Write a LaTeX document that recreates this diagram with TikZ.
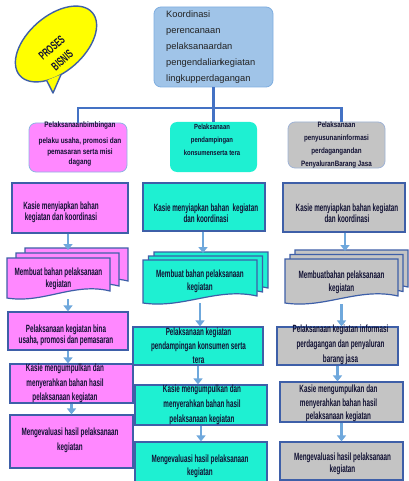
\documentclass[tikz,border=0pt]{standalone}
\usepackage{fontspec}
\usetikzlibrary{arrows.meta,calc}
\newfontfamily\condfont[FakeStretch=0.6]{Liberation Sans}
\newfontfamily\lvfont[FakeStretch=0.8]{Liberation Sans}
\newfontfamily\topfont{Liberation Sans}
\definecolor{pinkc}{HTML}{FF88FF}
\definecolor{cyanc}{HTML}{1EF0D2}
\definecolor{grayc}{HTML}{C4C4C4}
\definecolor{edgec}{HTML}{3E5FA8}
\definecolor{connc}{HTML}{4472C4}
\definecolor{arrowc}{HTML}{6FA8DC}
\definecolor{topfill}{HTML}{A0C4E8}
\definecolor{topedge}{HTML}{7FAEE0}
\definecolor{pinkedge}{HTML}{8EB4E3}
\definecolor{grayedge}{HTML}{9FB3D6}
\definecolor{yellowc}{HTML}{FFFF00}
\definecolor{inkc}{HTML}{111133}
\definecolor{topink}{HTML}{222222}
% one sheet of a stacked document: x0 y0 x1 y1 fill
\newcommand\docsheet[5]{%
  \pgfmathsetmacro\dw{#3-#1}%
  \filldraw[docline, fill=#5] (#1,#2) -- (#3,#2) -- (#3,#4-7)
    .. controls ({#3-0.35*\dw},{#4-16}) and ({#1+0.35*\dw},{#4+6}) .. (#1,#4) -- cycle;}
\begin{document}
\begin{tikzpicture}[x=1pt, y=-1pt,
  wh/.style 2 args={minimum width=#1, minimum height=#2},
  stepbox/.style={draw=edgec, line width=1.2pt, inner sep=0pt},
  pinkbox/.style={stepbox, fill=pinkc},
  cyanbox/.style={stepbox, fill=cyanc},
  graybox/.style={stepbox, fill=grayc},
  headbox/.style={rounded corners=7pt, inner sep=0pt, line width=0.8pt},
  txt/.style={font=\condfont\bfseries\fontsize{10.5}{#1}\selectfont, align=center, text=inkc, inner sep=0pt},
  txt/.default=12,
  lvtxt/.style 2 args={font=\lvfont\bfseries\fontsize{#1}{#2}\selectfont, align=center, text=inkc, inner sep=0pt},
  conn/.style={draw=connc, line width=2.8pt},
  arr/.style={draw=arrowc, line width=2.4pt, -{Triangle[width=9pt,length=6pt]}},
  docline/.style={draw=edgec, line width=1.2pt},
]
\fill[white] (0,0) rectangle (408,481);
\useasboundingbox (0,0) rectangle (408,481);

% speech bubble
\fill[yellowc] (46.7,80.5) -- (53,93) -- (61,74.6) -- cycle;
\filldraw[fill=yellowc, draw=edgec, line width=1.4pt, rotate around={41:(56,44)}] (56,44) ellipse [x radius=48, y radius=28];
\fill[yellowc] (46.7,80.5) -- (53,93) -- (61,74.6) -- cycle;
\draw[edgec, line width=1.4pt, line join=round] (46.7,80.5) -- (53,93) -- (61,74.6);
\node[rotate=41, font=\condfont\bfseries\fontsize{12}{16}\selectfont, align=center, text=inkc, inner sep=0pt] (pb) at (57,54) {PROSES\\BISNIS};

% head box
\node[headbox, draw=topedge, fill=topfill, wh={119}{80}] (top) at (213.5,47) {};
\node[anchor=west, align=left, font=\topfont\fontsize{9.3}{16}\selectfont, text=topink, inner sep=0pt] (toptxt) at (166,47) {Koordinasi\\perencanaan\\pelaksanaardan\\pengendalian\kern-2pt kegiatan\\lingkupperdagangan};

% second level
\node[headbox, draw=pinkedge, fill=pinkc, wh={98}{49}] (p2) at (78,147.5) {};
\node[lvtxt={8}{10.5}] (p2t) at (80,144) {Pelaksanaanbimbingan\\[6pt]pelaku usaha, promosi dan\\pemasaran serta misi\\dagang};
\node[headbox, draw=none, fill=cyanc, wh={87}{50}] (c2) at (213.5,147) {};
\node[lvtxt={7.4}{13}] (c2t) at (212,140) {Pelaksanaan\\pendampingan\\konsumenserta tera};
\node[headbox, draw=grayedge, fill=grayc, wh={97}{46}] (g2) at (336.5,145) {};
\node[lvtxt={7.8}{13.3}] (g2t) at (336.5,145) {Pelaksanaan\\penyusunaninformasi\\perdagangandan\\PenyaluranBarang Jasa};

% connectors from the head box
\coordinate (bus) at (213.5,108);
\draw[conn] (top.south) -- (c2.north);
\draw[conn] (p2.north) |- (bus) -| ($(g2.north)+(5,0)$);

% pink column
\node[pinkbox, wh={116}{50}] (p3) at (70,208) {};
\node[txt=11] (p3t) at (61,212) {Kasie menyiapkan bahan\\kegiatan dan koordinasi};
\docsheet{25}{248}{128}{288}{pinkc}
\docsheet{16}{253}{119}{293}{pinkc}
\docsheet{7}{258}{110}{298}{pinkc}
\node[txt=12.5, wh={103}{40}] (p4) at (58.5,279) {Membuat bahan pelaksanaan\\kegiatan};
\node[pinkbox, wh={120}{38}] (p5) at (68,331) {};
\node[txt=11] (p5t) at (66,335) {Pelaksanaan kegiatan bina\\usaha, promosi dan pemasaran};
\node[pinkbox, wh={123}{39}] (p6) at (71.5,383.5) {};
\node[txt=14.5] (p6t) at (65,383.5) {Kasie mengumpulkan dan\\menyerahkan bahan hasil\\pelaksanaan kegiatan};
\node[pinkbox, wh={123}{53}] (p7) at (71.5,441.5) {};
\node[txt=15] (p7t) at (70,440.5) {Mengevaluasi hasil pelaksanaan\\kegiatan};

% cyan column
\node[cyanbox, wh={122}{48}] (c3) at (204,207) {};
\node[txt=11] (c3t) at (206,213) {Kasie menyiapkan bahan\ \ kegiatan\\dan koordinasi};
\docsheet{154}{252}{268}{295}{cyanc}
\docsheet{148.5}{256}{262.5}{299}{cyanc}
\docsheet{143}{260}{257}{303}{cyanc}
\node[txt=13, wh={114}{43}] (c4) at (200,281.5) {Membuat bahan pelaksanaan\\kegiatan};
\node[cyanbox, wh={130}{38}] (c5) at (198,346) {};
\node[txt=14] (c5t) at (198.5,346) {Pelaksanaan kegiatan\\pendampingan konsumen serta\\tera};
\node[cyanbox, wh={132}{40}] (c6) at (201,405) {};
\node[txt=15] (c6t) at (202,405) {Kasie mengumpulkan dan\\menyerahkan bahan hasil\\pelaksanaan kegiatan};
\node[cyanbox, wh={132}{41}] (c7) at (201,462.5) {};
\node[txt=13] (c7t) at (200,466) {Mengevaluasi hasil pelaksanaan\\kegiatan};

% gray column
\node[graybox, wh={122}{49}] (g3) at (344,207.5) {};
\node[txt=11] (g3t) at (347,213) {Kasie menyiapkan bahan kegiatan\\dan koordinasi};
\docsheet{295}{250}{408}{294}{grayc}
\docsheet{290}{254.5}{403}{298.5}{grayc}
\docsheet{285}{259}{398}{303}{grayc}
\node[txt=13, wh={113}{44}] (g4) at (341.5,282) {Membuatbahan pelaksanaan\\kegiatan};
\node[graybox, wh={121}{38}] (g5) at (337.5,346) {};
\node[txt=15] (g5t) at (340.5,345) {Pelaksanaan kegiatan informasi\\perdagangan dan penyaluran\\barang jasa};
\node[graybox, wh={123}{40}] (g6) at (341.5,402) {};
\node[txt=13.5] (g6t) at (338.5,403.5) {Kasie mengumpulkan dan\\menyerahkan bahan hasil\\pelaksanaan kegiatan};
\node[graybox, wh={123}{38}] (g7) at (341.5,461) {};
\node[txt=12.5] (g7t) at (342.5,464) {Mengevaluasi hasil pelaksanaan\\kegiatan};

% flow arrows
\coordinate (p4in) at (68,250);
\coordinate (c4in) at (203,253);
\coordinate (g4in) at (345,251);
\draw[arr] (p3.south -| p4in) -- (p4in);
\draw[arr] (p4.south -| p5.north) -- (p5.north);
\draw[arr] (p5.south) -- (p5.south |- p6.north);
\draw[arr] (p6.south) -- (p7.north);
\draw[arr] (c3.south -| c4in) -- (c4in);
\draw[arr] (c4.south) -- (c4.south |- c5.north);
\draw[arr] (c5.south) -- (c5.south |- c6.north);
\draw[arr] (c6.south) -- (c7.north);
\draw[arr] (g3.south -| g4in) -- (g4in);
\draw[arr] (g4.south) -- (g4.south |- g5.north);
\draw[arr] (g5.south) -- (g5.south |- g6.north);
\draw[arr] (g6.south) -- (g7.north);
\end{tikzpicture}
\end{document}
